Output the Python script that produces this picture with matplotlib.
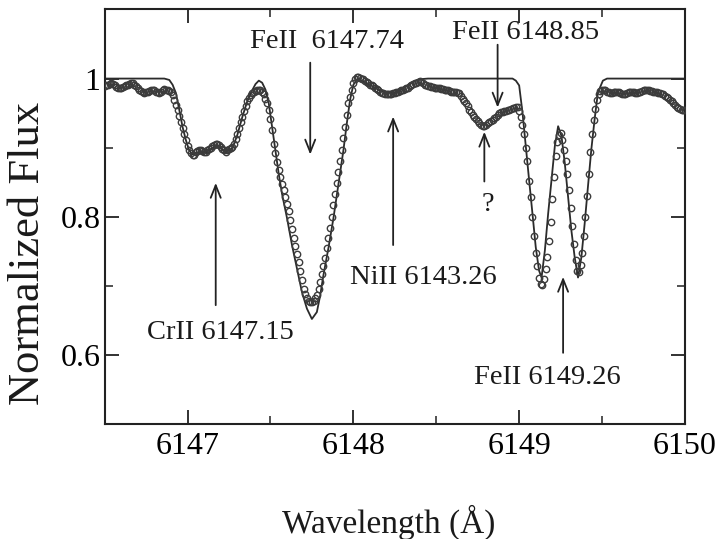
import numpy as np
import matplotlib
matplotlib.use("Agg")
import matplotlib.pyplot as plt
from matplotlib.ticker import FixedLocator, MultipleLocator

plt.rcParams['font.family'] = ['Liberation Serif', 'DejaVu Serif']

# ---------------- data ----------------
# observed spectrum (open circles), sampled every 0.01 A from 6146.50 A
obs_start = 6146.50
obs_step = 0.01
obs_flux = [
    0.989, 0.990, 0.991, 0.992, 0.993, 0.992, 0.990, 0.988, 0.987, 0.986,   # 6146.5
    0.987, 0.988, 0.989, 0.990, 0.991, 0.992, 0.993, 0.993, 0.991, 0.989,   # 6146.6
    0.987, 0.984, 0.982, 0.980, 0.979, 0.980, 0.981, 0.982, 0.983, 0.984,   # 6146.7
    0.983, 0.981, 0.980, 0.979, 0.981, 0.983, 0.985, 0.984, 0.983, 0.982,   # 6146.8
    0.981, 0.976, 0.969, 0.962, 0.954, 0.946, 0.937, 0.928, 0.920, 0.911,   # 6146.9
    0.903, 0.897, 0.892, 0.889, 0.890, 0.893, 0.895, 0.896, 0.896, 0.895,   # 6147.0
    0.894, 0.894, 0.896, 0.898, 0.900, 0.902, 0.904, 0.905, 0.906, 0.904,   # 6147.1
    0.901, 0.898, 0.896, 0.894, 0.896, 0.898, 0.900, 0.901, 0.906, 0.913,   # 6147.2
    0.920, 0.928, 0.937, 0.945, 0.953, 0.960, 0.967, 0.972, 0.976, 0.979,   # 6147.3
    0.981, 0.982, 0.983, 0.984, 0.984, 0.981, 0.977, 0.971, 0.964, 0.955,   # 6147.4
    0.942, 0.925, 0.906, 0.892, 0.879, 0.867, 0.857, 0.847, 0.838, 0.828,   # 6147.5
    0.818, 0.808, 0.795, 0.782, 0.769, 0.758, 0.746, 0.735, 0.722, 0.709,   # 6147.6
    0.696, 0.688, 0.682, 0.678, 0.676, 0.677, 0.678, 0.682, 0.686, 0.696,   # 6147.7
    0.706, 0.717, 0.729, 0.740, 0.755, 0.769, 0.784, 0.800, 0.817, 0.833,   # 6147.8
    0.849, 0.865, 0.881, 0.897, 0.914, 0.930, 0.947, 0.964, 0.974, 0.984,   # 6147.9
    0.994, 0.999, 1.002, 1.002, 1.001, 1.000, 0.999, 0.997, 0.995, 0.993,   # 6148.0
    0.991, 0.990, 0.989, 0.987, 0.985, 0.983, 0.981, 0.979, 0.979, 0.978,   # 6148.1
    0.977, 0.977, 0.978, 0.978, 0.979, 0.979, 0.980, 0.981, 0.982, 0.983,   # 6148.2
    0.984, 0.985, 0.986, 0.987, 0.989, 0.990, 0.992, 0.993, 0.994, 0.995,   # 6148.3
    0.996, 0.995, 0.993, 0.991, 0.990, 0.989, 0.989, 0.988, 0.988, 0.987,   # 6148.4
    0.987, 0.986, 0.986, 0.985, 0.985, 0.984, 0.983, 0.983, 0.982, 0.981,   # 6148.5
    0.981, 0.980, 0.980, 0.979, 0.979, 0.975, 0.971, 0.967, 0.964, 0.960,   # 6148.6
    0.955, 0.951, 0.947, 0.944, 0.941, 0.938, 0.935, 0.933, 0.932, 0.932,   # 6148.7
    0.933, 0.935, 0.937, 0.938, 0.940, 0.943, 0.945, 0.947, 0.950, 0.951,   # 6148.8
    0.952, 0.953, 0.953, 0.954, 0.955, 0.956, 0.957, 0.958, 0.959, 0.959,   # 6148.9
    0.953, 0.945, 0.933, 0.920, 0.900, 0.880, 0.852, 0.828, 0.799, 0.772,   # 6149.0
    0.748, 0.728, 0.712, 0.703, 0.701, 0.710, 0.724, 0.742, 0.765, 0.792,   # 6149.1
    0.825, 0.858, 0.888, 0.908, 0.918, 0.921, 0.911, 0.897, 0.880, 0.862,   # 6149.2
    0.838, 0.812, 0.786, 0.760, 0.737, 0.722, 0.720, 0.730, 0.748, 0.772,   # 6149.3
    0.800, 0.830, 0.862, 0.893, 0.920, 0.940, 0.956, 0.969, 0.978, 0.982,   # 6149.4
    0.983, 0.984, 0.983, 0.981, 0.980, 0.979, 0.979, 0.980, 0.981, 0.981,   # 6149.5
    0.980, 0.979, 0.978, 0.977, 0.978, 0.979, 0.980, 0.981, 0.980, 0.980,   # 6149.6
    0.979, 0.979, 0.980, 0.981, 0.982, 0.983, 0.984, 0.983, 0.983, 0.982,   # 6149.7
    0.982, 0.981, 0.980, 0.980, 0.979, 0.979, 0.978, 0.977, 0.975, 0.974,   # 6149.8
    0.972, 0.969, 0.967, 0.964, 0.962, 0.959, 0.957, 0.956, 0.955, 0.955,   # 6149.9
    0.954,                                                                  # 6150.0
]
obs_wl = obs_start + obs_step * np.arange(len(obs_flux))

# synthetic spectrum (solid line)
model_wl = [
    6146.50, 6146.86, 6146.89, 6146.91, 6146.93, 6146.95, 6146.97, 6146.99,
    6147.01, 6147.03, 6147.07, 6147.11, 6147.18, 6147.23, 6147.27, 6147.30,
    6147.33, 6147.36, 6147.39, 6147.41, 6147.43, 6147.45, 6147.47, 6147.49,
    6147.51, 6147.53, 6147.55, 6147.57, 6147.60, 6147.63, 6147.66, 6147.69,
    6147.72, 6147.75, 6147.78, 6147.80, 6147.82, 6147.85, 6147.88, 6147.91,
    6147.94, 6147.96, 6147.98, 6148.00, 6148.02, 6148.06, 6148.10, 6148.15,
    6148.20, 6148.25, 6148.30, 6148.35, 6148.40, 6148.45, 6148.96, 6148.98,
    6149.00, 6149.02, 6149.04, 6149.06, 6149.08, 6149.10, 6149.12, 6149.135,
    6149.155, 6149.175, 6149.195, 6149.215, 6149.235, 6149.255, 6149.275, 6149.295,
    6149.315, 6149.335, 6149.355, 6149.375, 6149.395, 6149.415, 6149.435, 6149.455,
    6149.475, 6149.505, 6149.53, 6150.00,
]
model_flux = [
    1.000, 1.000, 0.998, 0.991, 0.979, 0.955, 0.930, 0.911,
    0.896, 0.890, 0.894, 0.893, 0.904, 0.893, 0.899, 0.918,
    0.944, 0.967, 0.983, 0.992, 0.997, 0.994, 0.984, 0.964,
    0.930, 0.896, 0.862, 0.833, 0.798, 0.759, 0.725, 0.691,
    0.667, 0.652, 0.662, 0.686, 0.716, 0.755, 0.798, 0.847,
    0.896, 0.934, 0.969, 0.991, 0.998, 0.996, 0.991, 0.984,
    0.979, 0.980, 0.986, 0.994, 0.999, 1.000, 1.000, 0.997,
    0.990, 0.951, 0.902, 0.853, 0.805, 0.756, 0.722, 0.712,
    0.751, 0.805, 0.853, 0.902, 0.931, 0.917, 0.878, 0.829,
    0.780, 0.741, 0.712, 0.741, 0.790, 0.844, 0.897, 0.941,
    0.980, 0.997, 1.000, 1.000,
]
assert len(model_wl) == len(model_flux)

x_ticks = [6147, 6148, 6149, 6150]
x_tick_labels = ['6147', '6148', '6149', '6150']
y_ticks = [0.6, 0.8, 1.0]
y_tick_labels = ['0.6', '0.8', '1']

# line identifications: label, label position, arrow tail, arrow head
line_ids = [
    ('FeII  6147.74', (6147.84, 1.054), (6147.74, 1.023), (6147.74, 0.890)),
    ('FeII 6148.85',  (6149.04, 1.067), (6148.87, 1.049), (6148.87, 0.958)),
    ('?',             (6148.81, 0.817), (6148.79, 0.851), (6148.79, 0.923)),
    ('NiII 6143.26',  (6148.42, 0.712), (6148.24, 0.759), (6148.24, 0.945)),
    ('CrII 6147.15',  (6147.20, 0.633), (6147.17, 0.672), (6147.17, 0.849)),
    ('FeII 6149.26',  (6149.17, 0.568), (6149.265, 0.603), (6149.265, 0.713)),
]

# ---------------- figure ----------------
fig = plt.figure(figsize=(7.25, 5.39), dpi=100)
ax = fig.add_axes([0.1443, 0.2134, 0.8005, 0.7690])

ax.plot(model_wl, model_flux, color='#2b2b2b', lw=1.3, zorder=2)
ax.plot(obs_wl, obs_flux, ls='none', marker='o', ms=4.6, mfc='none',
        mec='#3c3c3c', mew=1.0, zorder=3)

ax.set_xlim(6146.5, 6150.0)
ax.set_ylim(0.5, 1.1)
ax.xaxis.set_major_locator(FixedLocator(x_ticks))
ax.set_xticklabels(x_tick_labels)
ax.xaxis.set_minor_locator(MultipleLocator(0.5))
ax.yaxis.set_major_locator(FixedLocator(y_ticks))
ax.set_yticklabels(y_tick_labels)
ax.yaxis.set_minor_locator(MultipleLocator(0.1))

ax.tick_params(which='both', direction='in', top=True, right=True,
               color='#222222')
ax.tick_params(which='major', length=10, width=1.3, labelsize=23)
ax.tick_params(which='minor', length=5.5, width=1.1)
ax.tick_params(axis='x', which='major', pad=6)
ax.tick_params(axis='y', which='major', pad=3)
for sp in ax.spines.values():
    sp.set_linewidth(1.5)
    sp.set_color('#222222')

for label, tpos, tail, head in line_ids:
    ax.annotate('', xy=head, xytext=tail,
                arrowprops=dict(arrowstyle='->,head_length=0.45,head_width=0.18',
                                lw=1.3, color='#222222', mutation_scale=20,
                                shrinkA=0, shrinkB=0))
    ax.text(tpos[0], tpos[1], label, ha='center', va='center',
            fontsize=20.5, color='#1a1a1a')

fig.text(28 / 725, 1 - 253 / 539, 'Normalized Flux', rotation=90,
         ha='center', va='center', fontsize=32, color='#1a1a1a')
fig.text(389 / 725, 1 - 522 / 539, 'Wavelength (Å)', ha='center',
         va='center', fontsize=24, color='#1a1a1a')

fig.savefig('out.png', dpi=100, facecolor='white')
